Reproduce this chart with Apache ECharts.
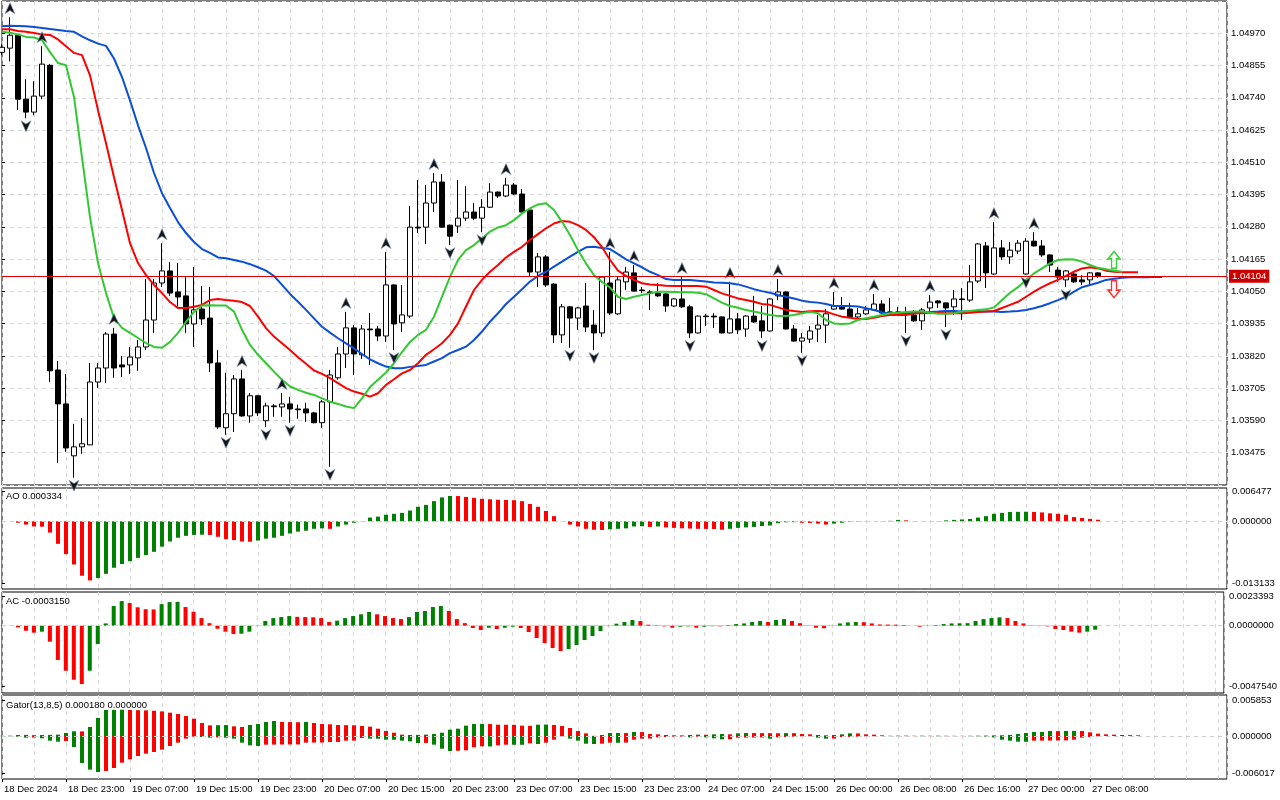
<!DOCTYPE html>
<html><head><meta charset="utf-8">
<script src="https://cdn.jsdelivr.net/npm/echarts@6/dist/echarts.min.js"></script>
<style>html,body{margin:0;padding:0;background:#fff}#c{width:1280px;height:800px}</style>
</head><body><div id="c"></div><script>
const tickLabels = ['18 Dec 2024','18 Dec 23:00','19 Dec 07:00','19 Dec 15:00','19 Dec 23:00','20 Dec 07:00','20 Dec 15:00','20 Dec 23:00','23 Dec 07:00','23 Dec 15:00','23 Dec 23:00','24 Dec 07:00','24 Dec 15:00','26 Dec 00:00','26 Dec 08:00','26 Dec 16:00','27 Dec 00:00','27 Dec 08:00'];

const opens = [1.04902,1.04917,1.04963,1.04735,1.04689,1.04746,1.04856,1.03770,1.03649,1.03464,1.03496,1.03503,1.03727,1.03777,1.03898,1.03788,1.03788,1.03813,1.03852,1.03948,1.04080,1.04123,1.04048,1.04034,1.03934,1.03987,1.03955,1.03795,1.03564,1.03614,1.03738,1.03606,1.03678,1.03589,1.03642,1.03638,1.03649,1.03631,1.03631,1.03617,1.03582,1.03656,1.03742,1.03827,1.03920,1.03824,1.03916,1.03916,1.03891,1.04073,1.03938,1.03962,1.04279,1.04279,1.04365,1.04440,1.04286,1.04283,1.04311,1.04333,1.04311,1.04350,1.04404,1.04390,1.04429,1.04397,1.04340,1.04119,1.04173,1.04076,1.03895,1.03995,1.03955,1.03998,1.03930,1.03902,1.04080,1.03970,1.04084,1.04116,1.04055,1.04048,1.04044,1.04041,1.03998,1.04023,1.03995,1.03902,1.03962,1.03962,1.03959,1.03902,1.03952,1.03916,1.03962,1.03945,1.03909,1.04034,1.04048,1.03916,1.03873,1.03880,1.03916,1.03930,1.03987,1.03998,1.03987,1.03959,1.03970,1.03984,1.04005,1.03977,1.03977,1.03973,1.03966,1.03945,1.03991,1.04016,1.04009,1.03995,1.04023,1.04019,1.04087,1.04212,1.04112,1.04205,1.04173,1.04194,1.04112,1.04229,1.04212,1.04180,1.04126,1.04091,1.04112,1.04091,1.04091,1.04116];
const highs = [1.04931,1.05027,1.04965,1.04806,1.04799,1.04924,1.04860,1.03802,1.03756,1.03578,1.03599,1.03795,1.03795,1.03905,1.03920,1.03820,1.03852,1.03877,1.04094,1.04094,1.04222,1.04155,1.04151,1.04101,1.04137,1.04069,1.04066,1.03841,1.03760,1.03752,1.03770,1.03688,1.03681,1.03653,1.03649,1.03688,1.03674,1.03646,1.03653,1.03621,1.03663,1.03770,1.03852,1.03977,1.03930,1.03930,1.03973,1.03927,1.04190,1.04075,1.04073,1.04354,1.04447,1.04429,1.04472,1.04468,1.04288,1.04447,1.04425,1.04365,1.04379,1.04436,1.04406,1.04454,1.04436,1.04415,1.04342,1.04187,1.04180,1.04080,1.04005,1.03997,1.03995,1.04080,1.03984,1.04103,1.04190,1.04101,1.04137,1.04144,1.04066,1.04055,1.04080,1.04043,1.04025,1.04101,1.04002,1.03964,1.03970,1.03973,1.03961,1.04084,1.03973,1.03966,1.04034,1.03998,1.04025,1.04094,1.04050,1.03930,1.03902,1.03927,1.03966,1.03987,1.04048,1.04030,1.04009,1.03991,1.03998,1.04041,1.04019,1.04027,1.03995,1.03995,1.03984,1.03991,1.04037,1.04019,1.04011,1.04055,1.04062,1.04144,1.04222,1.04226,1.04297,1.04233,1.04226,1.04233,1.04240,1.04261,1.04233,1.04182,1.04137,1.04126,1.04119,1.04108,1.04119,1.04119];
const lows = [1.04892,1.04870,1.04696,1.04667,1.04678,1.04735,1.03727,1.03439,1.03478,1.03386,1.03471,1.03503,1.03706,1.03724,1.03742,1.03745,1.03756,1.03767,1.03841,1.03902,1.04066,1.04034,1.03995,1.03902,1.03852,1.03930,1.03763,1.03560,1.03539,1.03549,1.03604,1.03582,1.03606,1.03567,1.03603,1.03603,1.03582,1.03596,1.03585,1.03580,1.03564,1.03425,1.03735,1.03777,1.03752,1.03809,1.03788,1.03873,1.03870,1.03841,1.03905,1.03955,1.04258,1.04219,1.04333,1.04277,1.04215,1.04258,1.04301,1.04304,1.04261,1.04348,1.04383,1.04386,1.04393,1.04331,1.04105,1.04066,1.04066,1.03866,1.03866,1.03849,1.03913,1.03905,1.03841,1.03888,1.03966,1.03966,1.04055,1.04049,1.04044,1.03984,1.04030,1.03977,1.03995,1.03991,1.03884,1.03900,1.03927,1.03920,1.03900,1.03900,1.03898,1.03888,1.03938,1.03884,1.03907,1.04019,1.03914,1.03871,1.03831,1.03866,1.03870,1.03866,1.03984,1.03984,1.03955,1.03955,1.03966,1.03982,1.03971,1.03970,1.03966,1.03902,1.03941,1.03913,1.03977,1.03991,1.03923,1.03966,1.03948,1.04012,1.04080,1.04062,1.04108,1.04162,1.04148,1.04183,1.04110,1.04210,1.04173,1.04119,1.04084,1.04066,1.04080,1.04073,1.04073,1.04098];
const closes = [1.04920,1.04963,1.04735,1.04689,1.04746,1.04860,1.03767,1.03649,1.03492,1.03496,1.03507,1.03727,1.03777,1.03898,1.03777,1.03781,1.03816,1.03852,1.03948,1.04080,1.04123,1.04044,1.04030,1.03934,1.03984,1.03952,1.03795,1.03567,1.03614,1.03738,1.03606,1.03678,1.03617,1.03642,1.03639,1.03649,1.03631,1.03628,1.03617,1.03582,1.03656,1.03752,1.03827,1.03920,1.03827,1.03916,1.03913,1.03891,1.04073,1.03934,1.03966,1.04279,1.04276,1.04365,1.04440,1.04279,1.04247,1.04311,1.04333,1.04311,1.04350,1.04404,1.04390,1.04429,1.04397,1.04333,1.04119,1.04173,1.04073,1.03895,1.03995,1.03955,1.03991,1.03923,1.03902,1.04101,1.03973,1.04091,1.04119,1.04051,1.04053,1.04044,1.04034,1.03998,1.04023,1.03995,1.03902,1.03962,1.03960,1.03959,1.03902,1.03952,1.03913,1.03962,1.03941,1.03909,1.04023,1.04048,1.03916,1.03873,1.03884,1.03909,1.03930,1.03970,1.03998,1.03987,1.03959,1.03970,1.03984,1.04005,1.03973,1.03973,1.03973,1.03971,1.03945,1.03984,1.04012,1.04009,1.03991,1.04023,1.04021,1.04084,1.04219,1.04116,1.04205,1.04173,1.04197,1.04222,1.04229,1.04212,1.04180,1.04144,1.04101,1.04123,1.04084,1.04084,1.04116,1.04104];

const jaw = [1.04995,1.04997,1.04996,1.04995,1.04992,1.04989,1.04985,1.04982,1.04978,1.04975,1.04959,1.04945,1.04933,1.04925,1.04880,1.04814,1.04731,1.04642,1.04561,1.04472,1.04400,1.04347,1.04297,1.04258,1.04226,1.04201,1.04187,1.04171,1.04168,1.04162,1.04156,1.04147,1.04136,1.04124,1.04105,1.04073,1.04041,1.04013,1.03984,1.03954,1.03924,1.03903,1.03883,1.03865,1.03847,1.03827,1.03808,1.03794,1.03782,1.03776,1.03776,1.03781,1.03784,1.03788,1.03800,1.03812,1.03830,1.03841,1.03853,1.03877,1.03907,1.03942,1.03972,1.04005,1.04031,1.04058,1.04085,1.04105,1.04120,1.04138,1.04156,1.04174,1.04191,1.04207,1.04209,1.04205,1.04201,1.04183,1.04164,1.04150,1.04136,1.04120,1.04108,1.04094,1.04091,1.04091,1.04091,1.04088,1.04085,1.04082,1.04081,1.04079,1.04075,1.04067,1.04058,1.04051,1.04045,1.04037,1.04031,1.04025,1.04017,1.04012,1.04010,1.04005,1.03998,1.03998,1.03998,1.03996,1.03990,1.03984,1.03976,1.03970,1.03970,1.03972,1.03974,1.03974,1.03977,1.03978,1.03980,1.03980,1.03978,1.03978,1.03978,1.03978,1.03978,1.03977,1.03978,1.03980,1.03984,1.03990,1.03998,1.04008,1.04019,1.04031,1.04049,1.04065,1.04073,1.04081,1.04091,1.04095,1.04099,1.04100,1.04100,1.04100,1.04101,1.04101];
const teeth = [1.04984,1.04984,1.04978,1.04975,1.04971,1.04966,1.04964,1.04948,1.04924,1.04900,1.04892,1.04820,1.04696,1.04578,1.04457,1.04340,1.04222,1.04151,1.04108,1.04073,1.04044,1.04012,1.03991,1.03991,1.03995,1.04002,1.04019,1.04023,1.04019,1.04017,1.04012,1.03998,1.03960,1.03919,1.03889,1.03865,1.03841,1.03815,1.03792,1.03768,1.03756,1.03741,1.03723,1.03705,1.03693,1.03685,1.03675,1.03687,1.03717,1.03737,1.03758,1.03770,1.03794,1.03824,1.03844,1.03865,1.03895,1.03936,1.03996,1.04055,1.04091,1.04120,1.04144,1.04171,1.04191,1.04209,1.04233,1.04254,1.04275,1.04292,1.04301,1.04298,1.04286,1.04269,1.04243,1.04208,1.04162,1.04124,1.04105,1.04091,1.04079,1.04075,1.04073,1.04070,1.04069,1.04069,1.04069,1.04069,1.04067,1.04055,1.04043,1.04034,1.04025,1.04019,1.04013,1.04005,1.04002,1.03993,1.03984,1.03980,1.03977,1.03979,1.03980,1.03978,1.03968,1.03960,1.03956,1.03952,1.03952,1.03956,1.03962,1.03966,1.03966,1.03966,1.03972,1.03972,1.03974,1.03974,1.03972,1.03972,1.03972,1.03974,1.03977,1.03978,1.03980,1.03991,1.04002,1.04013,1.04031,1.04049,1.04065,1.04079,1.04091,1.04105,1.04120,1.04132,1.04136,1.04132,1.04124,1.04120,1.04118,1.04118,1.04118];
const lips = [1.04975,1.04972,1.04966,1.04957,1.04955,1.04945,1.04903,1.04864,1.04856,1.04743,1.04528,1.04315,1.04151,1.04044,1.03955,1.03920,1.03902,1.03884,1.03866,1.03852,1.03849,1.03870,1.03902,1.03941,1.03977,1.04000,1.04001,1.04000,1.04000,1.03978,1.03913,1.03859,1.03824,1.03794,1.03764,1.03735,1.03711,1.03699,1.03689,1.03681,1.03669,1.03657,1.03649,1.03640,1.03634,1.03669,1.03709,1.03735,1.03761,1.03794,1.03834,1.03870,1.03895,1.03913,1.03960,1.04031,1.04102,1.04162,1.04197,1.04215,1.04239,1.04263,1.04278,1.04286,1.04304,1.04328,1.04346,1.04360,1.04364,1.04340,1.04298,1.04251,1.04197,1.04150,1.04108,1.04084,1.04064,1.04031,1.04023,1.04031,1.04037,1.04043,1.04049,1.04049,1.04048,1.04047,1.04047,1.04045,1.04040,1.04025,1.04010,1.03998,1.03992,1.03984,1.03978,1.03972,1.03966,1.03962,1.03962,1.03966,1.03972,1.03977,1.03972,1.03948,1.03936,1.03934,1.03936,1.03948,1.03954,1.03960,1.03966,1.03972,1.03974,1.03977,1.03978,1.03978,1.03974,1.03970,1.03970,1.03972,1.03978,1.03980,1.03984,1.03986,1.03993,1.04019,1.04045,1.04065,1.04091,1.04114,1.04132,1.04150,1.04162,1.04165,1.04164,1.04156,1.04144,1.04134,1.04129,1.04124,1.04120];

const fractalUpIdx = [1,5,14,20,30,35,43,48,54,63,76,79,85,91,97,104,109,116,124,129];
const fractalDownIdx = [3,9,28,33,36,41,49,56,60,71,74,86,95,100,113,118,128,133];
const signalUp = [139, 1.04162];
const signalDown = [139, 1.04058];
const lastPrice = 1.04104;

const ao = [-0.00002,-0.00001,-0.0003,-0.0007,-0.0011,-0.00115,-0.0024,-0.0048,-0.0070,-0.0092,-0.0116,-0.0126,-0.0121,-0.0112,-0.0099,-0.0091,-0.0085,-0.0078,-0.0072,-0.0065,-0.0054,-0.0043,-0.0035,-0.0031,-0.0029,-0.00285,-0.0029,-0.0033,-0.0038,-0.0040,-0.0043,-0.00435,-0.0041,-0.0037,-0.0035,-0.0031,-0.0026,-0.0022,-0.0020,-0.0016,-0.0015,-0.0016,-0.0011,-0.0007,-0.0003,-0.00005,0.0008,0.0010,0.0014,0.0016,0.0018,0.0023,0.0031,0.0035,0.0043,0.0051,0.0054,0.00538,0.0052,0.0050,0.0048,0.0047,0.0046,0.00455,0.0045,0.0043,0.0037,0.0031,0.0022,0.0011,-0.00003,-0.0007,-0.0011,-0.0016,-0.0018,-0.00185,-0.0017,-0.0016,-0.0015,-0.0011,-0.00105,-0.0012,-0.0011,-0.0013,-0.0014,-0.0015,-0.00155,-0.0016,-0.00162,-0.00165,-0.0018,-0.0016,-0.0014,-0.0013,-0.0012,-0.0010,-0.0009,-0.0004,-0.0002,-0.00018,-0.0003,-0.00035,-0.0005,-0.0007,-0.0005,-0.0003,-0.0001,-0.00008,-0.00005,0.00001,0.00005,0.0001,0.0003,0.0002,0.00005,0.00002,0.00003,0.00006,0.0002,0.0003,0.0004,0.0005,0.0008,0.0011,0.0016,0.0018,0.0020,0.00202,0.00204,0.0020,0.0019,0.0017,0.0016,0.0014,0.0009,0.0007,0.00052,0.000334];
const ac = [-0.00002,-0.00001,-0.00013,-0.0004,-0.00055,-0.00047,-0.00126,-0.0027,-0.00355,-0.00426,-0.0046,-0.00355,-0.00145,0.00018,0.00155,0.00194,0.00179,0.00145,0.0013,0.00128,0.0017,0.00186,0.00188,0.00147,0.0011,0.0006,0.0002,-0.00024,-0.00047,-0.00066,-0.00063,-0.00047,-0.00003,0.00037,0.0006,0.00068,0.00076,0.0007,0.00068,0.00066,0.0006,0.0003,0.0004,0.0006,0.00076,0.0009,0.00108,0.0009,0.00076,0.0006,0.00052,0.00068,0.00108,0.00116,0.00147,0.00155,0.00116,0.00052,0.0002,-0.00018,-0.00034,-0.00016,-0.00026,-0.00016,-0.00008,-0.00018,-0.0005,-0.00097,-0.00137,-0.00176,-0.002,-0.00184,-0.00152,-0.00113,-0.00081,-0.00042,-0.00003,0.00016,0.00029,0.00045,0.00037,0.00008,0.00004,-0.00005,-0.00016,-0.00008,-0.00005,-0.00016,-0.00008,-0.00004,-0.00005,0.00005,0.00013,0.00018,0.00029,0.00037,0.00029,0.00045,0.00052,0.00037,0.0002,0.00003,-0.00016,-0.0002,-0.00002,0.00018,0.00026,0.00029,0.00028,0.00018,0.0001,0.00009,0.00008,0.00005,-0.00001,-0.00008,-0.00002,0.00005,0.00013,0.00018,0.00019,0.0002,0.00037,0.00052,0.0006,0.00066,0.0006,0.00037,0.00018,0.00003,-0.00003,-0.00005,-0.00026,-0.00034,-0.00047,-0.00055,-0.00047,-0.000315];
const gatorUp = [0.00003,0.00005,0.00016,0.00018,0.00014,0.00016,0.00018,0.00022,0.00049,0.00076,0.00075,0.00146,0.00293,0.00423,0.00425,0.00427,0.00424,0.0042,0.00417,0.0041,0.004,0.00379,0.00358,0.00325,0.00282,0.00211,0.00173,0.00176,0.00178,0.00157,0.00146,0.00179,0.00195,0.00228,0.00244,0.00228,0.00226,0.00224,0.00228,0.00211,0.00195,0.0019,0.00179,0.00176,0.00174,0.00163,0.00152,0.00119,0.00081,0.00054,0.00022,0.00016,0.00018,0.00022,0.00033,0.00054,0.00103,0.00119,0.00168,0.00195,0.00197,0.00194,0.00184,0.00183,0.00182,0.00168,0.00166,0.00184,0.00186,0.0018,0.00163,0.0013,0.00081,0.00043,0.00003,0.00016,0.00049,0.0005,0.00048,0.00065,0.00064,0.00033,0.00027,0.00016,0.00011,0.0001,0.00016,0.00022,0.00021,0.00027,0.00033,0.00027,0.00043,0.00049,0.00048,0.00047,0.00046,0.00045,0.00047,0.00046,0.00033,0.00027,0.00016,0.00011,0.00016,0.00027,0.00043,0.00042,0.00027,0.00022,0.00011,0.00004,0.00005,0.00006,0.00004,0.00005,0.00003,0.00005,0.00004,0.00003,0.00002,0.00004,0.00005,0.00007,0.0001,0.00012,0.00018,0.00033,0.00049,0.00065,0.00066,0.00081,0.0008,0.00082,0.00083,0.00081,0.0006,0.00038,0.00027,0.00022,0.00016,0.00015,0.00011];
const gatorDown = [0.00002,0.00005,0.00011,0.00027,0.00025,0.00038,0.00076,0.00092,0.00081,0.00179,0.00439,0.00547,0.00585,0.00569,0.0052,0.00434,0.00379,0.00325,0.00287,0.0026,0.00222,0.00163,0.00108,0.00043,0.00011,0.00016,0.00027,0.00022,0.00027,0.00043,0.00108,0.00152,0.00163,0.00141,0.0014,0.00139,0.00138,0.00137,0.00108,0.00107,0.00106,0.00098,0.00097,0.00076,0.00075,0.00033,0.00043,0.00044,0.0006,0.00061,0.00076,0.00087,0.00114,0.00113,0.00141,0.00206,0.00244,0.0024,0.00233,0.00184,0.00168,0.0017,0.00152,0.00141,0.00142,0.00143,0.00119,0.0013,0.00108,0.0006,0.00005,0.00043,0.00076,0.00125,0.0013,0.00125,0.00108,0.0011,0.00107,0.0006,0.00043,0.00042,0.00022,0.00016,0.00011,0.0001,0.00022,0.00011,0.00022,0.00038,0.00054,0.00053,0.00027,0.00026,0.00025,0.00024,0.00043,0.00022,0.00016,0.00011,0.00005,0.00004,0.00027,0.00043,0.00042,0.00016,0.00015,0.00011,0.00005,0.00004,0.00002,0.00003,0.00004,0.00003,0.00002,0.00004,0.00003,0.00005,0.00004,0.00003,0.00002,0.00004,0.00006,0.0001,0.00022,0.0006,0.00076,0.00092,0.00094,0.00076,0.00075,0.00074,0.00073,0.00072,0.0006,0.00027,0.00016,0.00005];

const GREEN = '#008000', RED = '#ff0000';
const FONT = 'Liberation Sans';
const X_MAX = 153.125;
const GRID_LINE = {show: true, lineStyle: {color: '#d6d6d6', type: [4, 4], width: 1}};

function colored(arr, sign) {
  return arr.map((v, i) => {
    const prev = i > 0 ? arr[i - 1] : v;
    const up = v >= prev;
    return {value: [i, sign * v], itemStyle: {color: up ? GREEN : RED}};
  });
}
function xAxisFor(gi) {
  return {type: 'value', gridIndex: gi, min: 0, max: X_MAX, interval: 4,
    axisLine: {show: false}, axisTick: {show: false}, axisLabel: {show: false}, splitLine: GRID_LINE};
}
function subY(gi, min, max, vals, digits) {
  return {type: 'value', gridIndex: gi, position: 'right', min: min, max: max,
    axisLine: {show: false},
    axisTick: {show: true, length: 3, inside: false, customValues: vals, lineStyle: {color: '#000'}},
    axisLabel: {customValues: vals, margin: 5, color: '#000', fontFamily: FONT, fontSize: 9.5,
      formatter: v => v.toFixed(digits)},
    splitLine: {show: false}};
}
const zeroLine = {silent: true, symbol: 'none', label: {show: false}, precision: 6,
  lineStyle: {color: '#cfcfcf', type: [4, 4], width: 1}, data: [{yAxis: 0}]};

const labelTicks = tickLabels.map((t, i) => i * 8);

const candleData = opens.map((o, i) => [i, o, closes[i], lows[i], highs[i]]);
const toLine = arr => arr.map((v, i) => [i, v]);

const arrowUp = 'path://M5,0 L10,10 L5,7 L0,10 Z';
const arrowDown = 'path://M0,0 L5,3 L10,0 L5,10 Z';
const bigUp = 'path://M6,0 L12,7 L8.5,7 L8.5,16 L3.5,16 L3.5,7 L0,7 Z';
const bigDown = 'path://M3.5,0 L8.5,0 L8.5,9 L12,9 L6,16 L0,9 L3.5,9 Z';

const grids = [
  {left: 2, top: 1, width: 1225, height: 484},
  {left: 2, top: 488, width: 1225, height: 101},
  {left: 2, top: 592, width: 1225, height: 101},
  {left: 2, top: 695, width: 1225, height: 84}
].map(g => Object.assign(g, {show: true, borderColor: '#000', borderWidth: 1, backgroundColor: '#fff', containLabel: false}));

const titleStyle = {fontSize: 9.5, fontWeight: 'normal', color: '#000', fontFamily: FONT};

const option = {
  animation: false,
  backgroundColor: '#fff',
  textStyle: {fontFamily: FONT},
  title: [
    {text: 'AO ' + ao[ao.length - 1].toFixed(6), left: 6, top: 491, padding: 0, textStyle: titleStyle},
    {text: 'AC ' + ac[ac.length - 1].toFixed(7), left: 6, top: 596, padding: 0, textStyle: titleStyle},
    {text: 'Gator(13,8,5) 0.000180 0.000000', left: 6, top: 700, padding: 0, textStyle: titleStyle}
  ],
  grid: grids,
  xAxis: [xAxisFor(0), xAxisFor(1), xAxisFor(2), xAxisFor(3),
    {type: 'value', gridIndex: 3, min: 0, max: X_MAX, interval: 8, position: 'bottom',
      axisLine: {show: false},
      axisTick: {show: true, length: 3, customValues: labelTicks, lineStyle: {color: '#000'}},
      axisLabel: {show: true, customValues: labelTicks, align: 'left', margin: 5,
        padding: [0, 0, 0, 2], color: '#000', fontFamily: FONT, fontSize: 9.5,
        formatter: v => (v % 8 === 0 && tickLabels[v / 8]) ? tickLabels[v / 8] : ''},
      splitLine: {show: false}}
  ],
  yAxis: [
    {type: 'value', gridIndex: 0, position: 'right', min: 1.03360, max: 1.05085, interval: 0.00115,
      axisLine: {show: false},
      axisTick: {show: true, length: 3, lineStyle: {color: '#000'}},
      axisLabel: {showMinLabel: false, showMaxLabel: false, margin: 4, color: '#000', fontFamily: FONT, fontSize: 9.5,
        formatter: v => v.toFixed(5)},
      splitLine: GRID_LINE},
    subY(1, -0.01443, 0.0071, [0.006477, 0, -0.013133], 6),
    subY(2, -0.005304, 0.002656, [0.0023393, 0, -0.004754], 7),
    subY(3, -0.006992, 0.006667, [0.005853, 0, -0.006017], 6)
  ],
  series: [
    {type: 'candlestick', xAxisIndex: 0, yAxisIndex: 0, data: candleData, barWidth: 5,
      encode: {x: 0, y: [1, 2, 3, 4]}, z: 2,
      itemStyle: {color: '#ffffff', color0: '#000000', borderColor: '#000000', borderColor0: '#000000', borderWidth: 1}},
    {type: 'line', xAxisIndex: 0, yAxisIndex: 0, data: toLine(jaw), showSymbol: false, z: 3,
      lineStyle: {color: '#0b4fd6', width: 2},
      markLine: {silent: true, symbol: 'none', precision: 5,
        lineStyle: {color: '#e00000', type: 'solid', width: 1},
        label: {show: true, position: 'end', distance: 2, formatter: () => lastPrice.toFixed(5),
          backgroundColor: '#cc0000', color: '#fff', fontFamily: FONT, fontSize: 9.5, padding: [2, 3, 1, 3]},
        data: [{yAxis: lastPrice, lineStyle: {color: '#e00000'}}]}},
    {type: 'line', xAxisIndex: 0, yAxisIndex: 0, data: toLine(teeth), showSymbol: false, z: 3,
      lineStyle: {color: '#ff0000', width: 2}},
    {type: 'line', xAxisIndex: 0, yAxisIndex: 0, data: toLine(lips), showSymbol: false, z: 3,
      lineStyle: {color: '#32c832', width: 2}},
    {type: 'scatter', xAxisIndex: 0, yAxisIndex: 0, z: 4, symbol: arrowUp, symbolSize: [10, 11], symbolOffset: [0, -9],
      itemStyle: {color: '#161616', borderColor: '#7f97c0', borderWidth: 0.6, opacity: 1},
      data: fractalUpIdx.map(i => [i, highs[i]])},
    {type: 'scatter', xAxisIndex: 0, yAxisIndex: 0, z: 4, symbol: arrowDown, symbolSize: [10, 11], symbolOffset: [0, 8],
      itemStyle: {color: '#161616', borderColor: '#7f97c0', borderWidth: 0.6, opacity: 1},
      data: fractalDownIdx.map(i => [i, lows[i]])},
    {type: 'scatter', xAxisIndex: 0, yAxisIndex: 0, z: 4, symbol: bigUp, symbolSize: [12, 17],
      itemStyle: {color: '#f4fff0', borderColor: '#3ccf3c', borderWidth: 1.5, opacity: 1},
      data: [signalUp]},
    {type: 'scatter', xAxisIndex: 0, yAxisIndex: 0, z: 4, symbol: bigDown, symbolSize: [12, 17],
      itemStyle: {color: '#fff4f4', borderColor: '#ff3030', borderWidth: 1.5, opacity: 1},
      data: [signalDown]},
    {type: 'bar', xAxisIndex: 1, yAxisIndex: 1, barWidth: 4, data: colored(ao, 1), markLine: zeroLine},
    {type: 'bar', xAxisIndex: 2, yAxisIndex: 2, barWidth: 4, data: colored(ac, 1), markLine: zeroLine},
    {type: 'bar', xAxisIndex: 3, yAxisIndex: 3, barWidth: 4, barGap: '-100%', data: colored(gatorUp, 1), markLine: zeroLine},
    {type: 'bar', xAxisIndex: 3, yAxisIndex: 3, barWidth: 4, barGap: '-100%', data: colored(gatorDown, -1)}
  ]
};
const chart = echarts.init(document.getElementById('c'), null, {renderer: 'canvas'});
chart.setOption(option);
</script></body></html>
